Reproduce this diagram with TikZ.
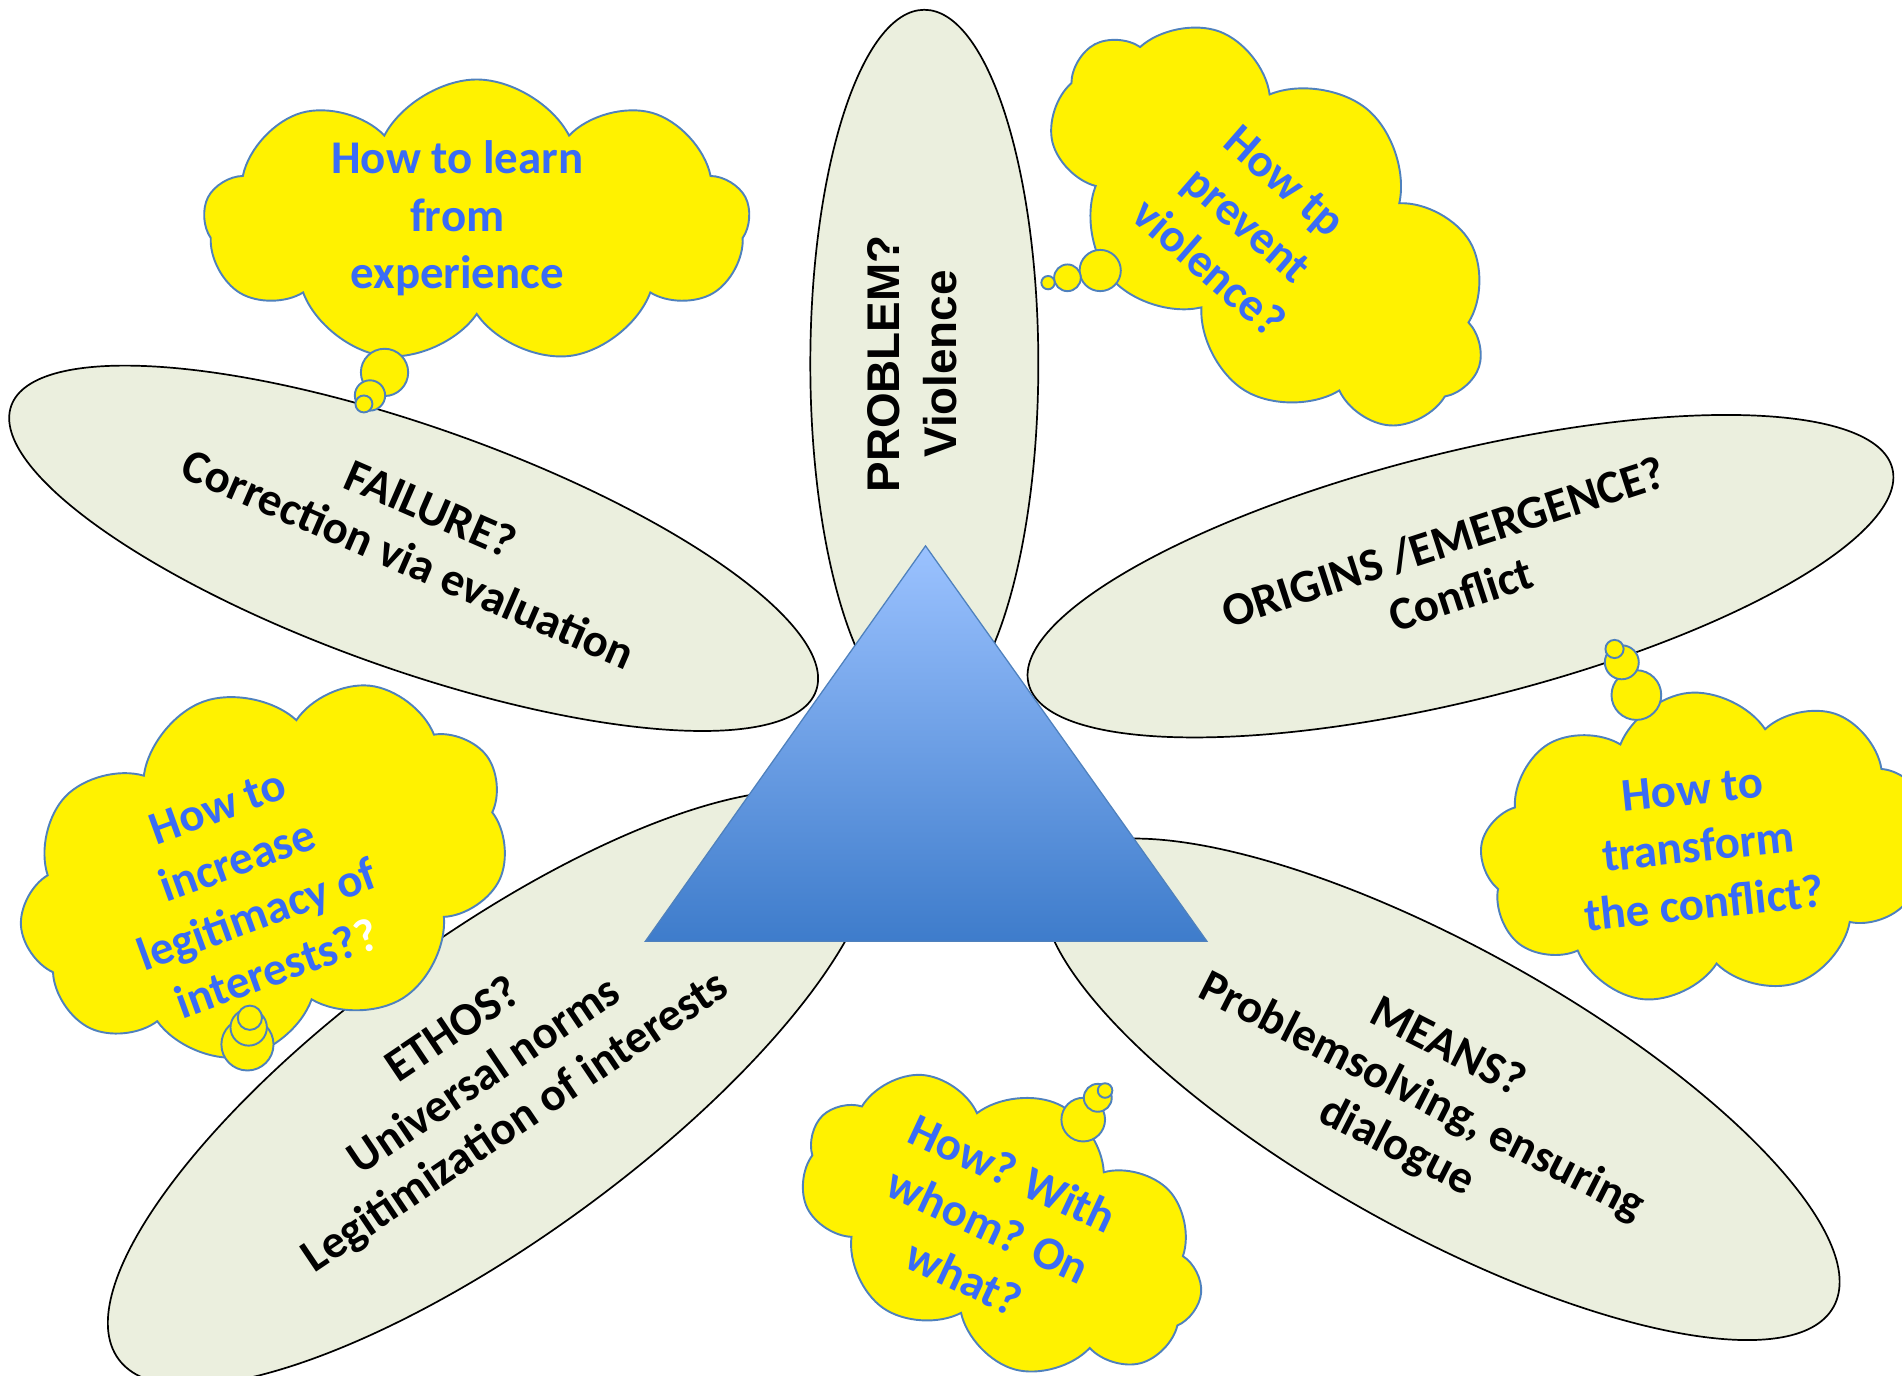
\documentclass[tikz,border=0pt]{standalone}
\usepackage{fontspec}
\setmainfont{Carlito}
\newfontfamily\headfont{Liberation Sans}
\usetikzlibrary{shapes.geometric, shapes.symbols}
\definecolor{petalfill}{RGB}{235,239,222}
\definecolor{cloudline}{RGB}{79,129,189}
\definecolor{cloudtext}{RGB}{58,108,245}
\definecolor{tritop}{RGB}{155,194,255}
\definecolor{tribottom}{RGB}{62,124,203}

\begin{document}
\begin{tikzpicture}[x=0.02cm, y=-0.02cm,
    petal/.style={ellipse, draw=black, fill=petalfill, line width=0.8pt, inner sep=0pt},
    petaltext/.style={align=center, font=\fontsize{22}{26}\selectfont\bfseries},
    thought/.style={cloud, cloud puffs=9, cloud puff arc=125, cloud ignores aspect, draw=cloudline, fill=yellow, line width=0.9pt, inner sep=0pt},
    thoughttext/.style={align=center, text=cloudtext, font=\fontsize{22}{27}\selectfont\bfseries},
    bubble/.style={circle, draw=cloudline, fill=yellow, line width=0.9pt, inner sep=0pt}]

    \useasboundingbox (0,0) rectangle (1568,1134);
    \clip (0,0) rectangle (1568,1134);

    \node[petal, minimum width=11.68cm, minimum height=3.76cm, rotate=90] (problem) at (762,300) {};
    \node[petal, minimum width=14.08cm, minimum height=4cm, rotate=-19.5] (failure) at (341,452) {};
    \node[petal, minimum width=14.68cm, minimum height=4.08cm, rotate=14] (origins) at (1204,475) {};
    \node[petal, minimum width=15.2cm, minimum height=5cm, rotate=36] (ethos) at (405,897) {};
    \node[petal, minimum width=14.8cm, minimum height=4.7cm, rotate=-29] (means) at (1188,898) {};

    \node[petaltext, font=\headfont\fontsize{21.5}{27}\selectfont\bfseries, rotate=90] (problemtxt) at (752,300) {PROBLEM?\\Violence};
    \node[petaltext, rotate=-23.5] (failuretxt) at (346,440) {FAILURE?\\Correction via evaluation};
    \node[petaltext, rotate=18] (originstxt) at (1197,468) {ORIGINS /EMERGENCE?\\Conflict};
    \node[petaltext, rotate=34] (ethostxt) at (400,888) {ETHOS?\\Universal norms\\Legitimization of interests};
    \node[petaltext, rotate=-27] (meanstxt) at (1172,905) {MEANS?\\Problemsolving, ensuring\\dialogue};

    \coordinate (apex) at (763,450);
    \coordinate (baseleft) at (532,776);
    \coordinate (baseright) at (995,776);
    \shadedraw[top color=tritop, bottom color=tribottom, draw=cloudline, line width=0.6pt] (apex) -- (baseright) -- (baseleft) -- cycle;

    \node[thought, minimum width=9cm, minimum height=4.7cm] (learn) at (393,183) {};
    \node[thoughttext] (learntxt) at (377,180) {How to learn\\from\\experience};
    \node[bubble, minimum size=0.78cm] (learnb1) at (317,307) {};
    \node[bubble, minimum size=0.5cm] (learnb2) at (305,326) {};
    \node[bubble, minimum size=0.28cm] (learnb3) at (300,333) {};

    \node[thought, minimum width=8.4cm, minimum height=5cm, rotate=-40] (prevent) at (1047,186) {};
    \node[thoughttext, rotate=-41] (preventtxt) at (1028,185) {How tp\\prevent\\violence?};
    \node[bubble, minimum size=0.68cm] (preventb1) at (907,223) {};
    \node[bubble, minimum size=0.44cm] (preventb2) at (880,229) {};
    \node[bubble, minimum size=0.22cm] (preventb3) at (864,233) {};

    \node[thought, minimum width=8.3cm, minimum height=5.9cm, rotate=20] (increase) at (218,717) {};
    \node[thoughttext, rotate=20] (increasetxt) at (204,732) {How to\\increase\\legitimacy of\\interests?\textcolor{white}{?}};
    \node[bubble, minimum size=0.86cm] (increaseb1) at (204,861) {};
    \node[bubble, minimum size=0.6cm] (increaseb2) at (205,847) {};
    \node[bubble, minimum size=0.4cm] (increaseb3) at (206,839) {};

    \node[thought, minimum width=7.4cm, minimum height=5.1cm, rotate=6] (transform) at (1405,698) {};
    \node[thoughttext, rotate=6] (transformtxt) at (1400,698) {How to\\transform\\the conflict?};
    \node[bubble, minimum size=0.82cm] (transformb1) at (1349,573) {};
    \node[bubble, minimum size=0.56cm] (transformb2) at (1337,546) {};
    \node[bubble, minimum size=0.3cm] (transformb3) at (1331,535) {};

    \node[thought, minimum width=7cm, minimum height=4.4cm, rotate=-25] (how) at (826,1010) {};
    \node[thoughttext, rotate=-25] (howtxt) at (815,1010) {How? With\\whom? On\\what?};
    \node[bubble, minimum size=0.72cm] (howb1) at (893,923) {};
    \node[bubble, minimum size=0.46cm] (howb2) at (905,905) {};
    \node[bubble, minimum size=0.24cm] (howb3) at (911,899) {};
\end{tikzpicture}
\end{document}
